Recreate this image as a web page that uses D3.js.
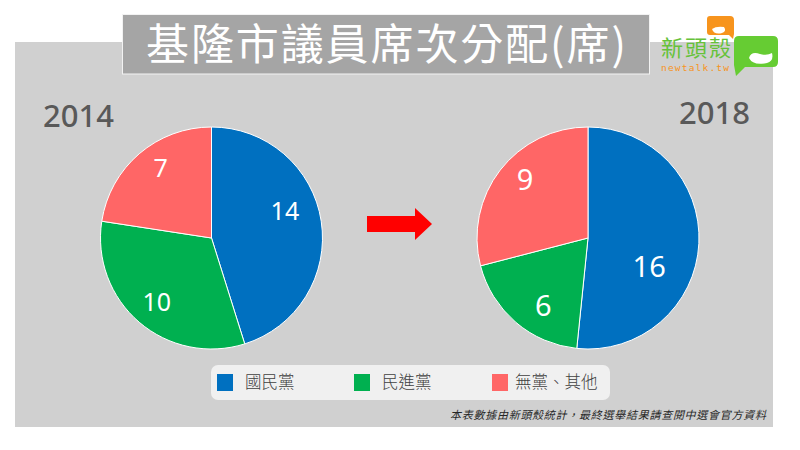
<!DOCTYPE html>
<html lang="zh-Hant"><head><meta charset="utf-8">
<script src="https://cdn.jsdelivr.net/npm/d3@7"></script>
<style>html,body{margin:0;padding:0;background:#fff}svg{display:block}
text{font-family:"Noto Sans CJK TC","Noto Sans",sans-serif}
.num{font-family:"Noto Sans","Open Sans",sans-serif}</style></head><body>
<svg id="c" width="800" height="450"></svg>
<script>
const parties = ["國民黨","民進黨","無黨、其他"];
const colors = ["#0070c0","#00b050","#ff6666"];
const years = ["2014","2018"];
const seats2014 = [14,10,7];
const seats2018 = [16,6,9];
const titleText = "基隆市議員席次分配(席)";
const noteText = "本表數據由新頭殼統計，最終選舉結果請查閱中選會官方資料";
const nudge2014 = [[1,-16],[-7,8],[-3,-14]];
const nudge2018 = [[-12,25],[3,12],[-5,-14]];

const svg = d3.select("#c");
svg.append("rect").attr("x",15).attr("y",42).attr("width",758).attr("height",385).attr("fill","#d0d0d0");
svg.append("rect").attr("x",122.5).attr("y",14.5).attr("width",527).attr("height",59.5)
  .attr("fill","#a5a5a5").attr("stroke","#f2f2f2").attr("stroke-width",1);
svg.append("text").attr("x",386).attr("y",60).attr("text-anchor","middle").attr("fill","#fff")
  .attr("font-size",43).attr("font-weight",400).attr("textLength",480).text(titleText);

const pie = d3.pie().sort(null);
const R = 111;
const arc = d3.arc().innerRadius(0).outerRadius(R);
const labelArc = d3.arc().innerRadius(R*0.66).outerRadius(R*0.66);
function drawPie(vals,cx,cy,fs,nudge){
  const g = svg.append("g").attr("transform",`translate(${cx},${cy})`);
  const arcs = pie(vals);
  g.selectAll("path").data(arcs).join("path").attr("d",arc)
    .attr("fill",(d,i)=>colors[i]).attr("stroke","#fff").attr("stroke-width",1);
  g.selectAll("text").data(arcs).join("text").attr("class","num")
    .attr("transform",(d,i)=>{const c=labelArc.centroid(d);return `translate(${c[0]+nudge[i][0]},${c[1]+nudge[i][1]})`;})
    .attr("text-anchor","middle").attr("dy","0.36em").attr("fill","#fff")
    .attr("font-size",fs).text(d=>d.value);
}
drawPie(seats2014,211.5,238,25,nudge2014);
drawPie(seats2018,588,238,29,nudge2018);

svg.append("text").attr("class","num").attr("x",43).attr("y",127).attr("font-size",31).attr("font-weight",500).attr("fill","#595959").text(years[0]);
svg.append("text").attr("class","num").attr("x",679).attr("y",124).attr("font-size",31).attr("font-weight",500).attr("fill","#595959").text(years[1]);

// arrow
svg.append("path").attr("d","M367,216H415V208L432,224L415,240V232H367Z").attr("fill","#ff0000");

// legend
svg.append("rect").attr("x",211).attr("y",365).attr("width",399).attr("height",35).attr("rx",7).attr("fill","#f0f0f0");
const lx=[217,354,492], tx=[245,382,515];
const lg = svg.selectAll(".lg").data(parties).join("g").attr("class","lg");
lg.append("rect").attr("x",(d,i)=>lx[i]).attr("y",374).attr("width",16).attr("height",17).attr("fill",(d,i)=>colors[i]);
lg.append("text").attr("x",(d,i)=>tx[i]).attr("y",388).attr("font-size",16.5).attr("font-weight",300).attr("fill","#404040").text(d=>d);

// note
svg.append("text").attr("x",450).attr("y",419).attr("font-size",11)
  .attr("textLength",316).attr("font-style","italic").attr("fill","#262626").text(noteText);

// logo
const logo = svg.append("g");
logo.append("path").attr("d","M710,16H730Q734,16 734,20V34L733,39L729,35H710Q707,35 707,32V19Q707,16 710,16Z").attr("fill","#f7941d");
logo.append("path").attr("d","M712,29Q716,26 724,27Q727,31 722,33Q714,35 712,29Z").attr("fill","#fff");
logo.append("path").attr("d","M739,36H773Q778,36 778,41V62Q778,67 773,67H745L736,76L734,65V41Q734,36 739,36Z").attr("fill","#66cc33");
logo.append("path").attr("d","M749,58Q751,51 760,54Q767,56 772,53Q774,61 767,63Q753,66 749,58Z").attr("fill","#fff");
logo.append("text").attr("x",661).attr("y",56).attr("font-size",22).attr("font-weight",400).attr("fill","#66c23a").attr("textLength",70).text("新頭殼");
logo.append("text").attr("x",661).attr("y",71).attr("font-size",9.5).attr("fill","#f7941d").attr("textLength",68).style("font-family","'DejaVu Sans Mono',monospace").text("newtalk.tw");
</script></body></html>
